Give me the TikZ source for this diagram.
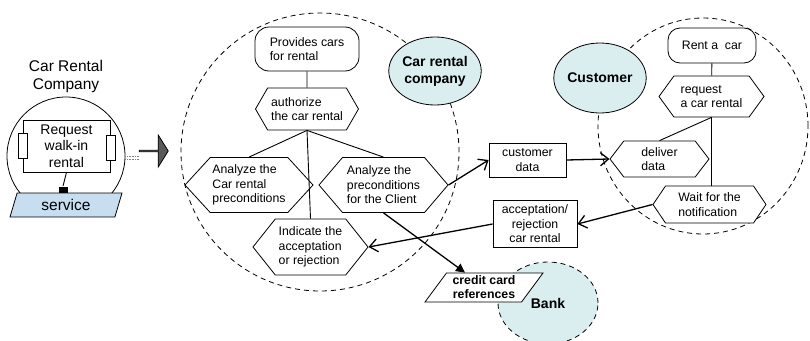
\documentclass[tikz,border=0pt]{standalone}
\usepackage{fontspec}
\setmainfont{Liberation Sans}
\usetikzlibrary{arrows.meta,calc,positioning,shapes.geometric,shapes.symbols,shapes.arrows}
\definecolor{actorfill}{RGB}{218,237,239}
\definecolor{servfill}{RGB}{198,222,240}
\tikzset{
  txt/.style   = {font=\fontsize{12.3}{14.5}\selectfont},
  hexa/.style  = {txt, draw, fill=white, signal, signal to=west and east, inner sep=1pt,
                  align=left},
  term/.style  = {txt, draw, fill=white, rounded corners=14pt, align=left, inner sep=1pt},
  datab/.style = {txt, draw, fill=white, align=center, inner sep=1pt},
  actor/.style = {ellipse, draw, fill=actorfill, inner sep=0pt, align=center,
                  font=\bfseries\fontsize{14}{17}\selectfont},
  zone/.style  = {draw, dash pattern=on 5pt off 4pt, inner sep=0pt},
  slant/.style = {trapezium, trapezium stretches body=true, inner sep=0pt},
  link/.style  = {line width=0.9pt},
  flow/.style  = {line width=1.3pt, -{Straight Barb[length=8pt,width=13pt]}},
}

\begin{document}
\begin{tikzpicture}[x=1pt,y=-1pt,line width=0.8pt]
  \useasboundingbox (0,0) rectangle (810,340);
  % component on the left
  \node[align=center, font=\fontsize{15.5}{18}\selectfont] (crc) at (66,76) {Car Rental\\Company};
  \node[circle, draw, minimum size=118, inner sep=0pt] (lcirc) at (66,156) {};
  \node[draw, fill=white, minimum width=87, minimum height=52, inner sep=0pt, align=center,
        font=\fontsize{14}{16.5}\selectfont] (walk) at (66.5,146) {Request\\walk-in\\rental};
  \node[draw, fill=white, minimum width=9, minimum height=25, inner sep=0pt] (walkL) at (walk.west) {};
  \node[draw, fill=white, minimum width=9, minimum height=25, inner sep=0pt] (walkR) at ([yshift=-2pt]walk.east) {};
  \node[slant, fill=black, trapezium left angle=60, trapezium right angle=120,
        minimum width=9, minimum height=6] (plug) at (63,189.5) {};
  \draw[link] (walk.south) -- (plug.north);
  \node[slant, draw, fill=servfill, trapezium left angle=58, trapezium right angle=122,
        minimum width=112, minimum height=24, font=\fontsize{15.5}{18}\selectfont] (service) at (66,205) {service};
  \node[single arrow, draw, fill=black!65, minimum height=29, minimum width=32, inner sep=0pt,
        single arrow head extend=8.5pt, single arrow tip angle=116] (push) at (153.5,151) {};
  \draw[densely dotted, gray, line width=0.6pt] ($(lcirc.east)+(0,0)$) -- ($(lcirc.east -| push.tail)+(0,0)$);
  \draw[densely dotted, gray, line width=0.6pt] ($(lcirc.east)+(0,3)$) -- ($(lcirc.east -| push.tail)+(0,3)$);

  % car rental company
  \node[zone, circle, minimum size=278] (zoneA) at (320,152) {};
  \node[actor, minimum width=86, minimum height=68] (company) at (435,71) {Car rental\\company};
  \node[term, minimum width=104, minimum height=44] (provide) at (307,49) {Provides cars\\for rental};
  \node[hexa, minimum width=103, minimum height=42, signal pointer angle=120] (authorize) at (307,109) {authorize\\the car rental};
  \node[hexa, minimum width=128, minimum height=55, signal pointer angle=95] (anaCar) at (249,185) {Analyze the\\Car rental\\preconditions};
  \node[hexa, minimum width=129, minimum height=55, signal pointer angle=99] (anaCli) at (383.5,185) {Analyze the\\preconditions\\for the Client};
  \node[hexa, minimum width=115, minimum height=56, signal pointer angle=103] (indicate) at (310.5,247) {Indicate the\\acceptation\\or rejection};

  % customer
  \node[zone, ellipse, minimum width=210, minimum height=216] (zoneB) at (703,126) {};
  \node[actor, minimum width=85, minimum height=70] (customer) at (600,78) {Customer};
  \node[term, minimum width=88, minimum height=35, rounded corners=12pt] (rent) at (712,45.5) {Rent a\ \ car};
  \node[hexa, minimum width=105, minimum height=41, signal pointer angle=108] (request) at (711.5,96.5) {request\\a car rental};
  \node[hexa, minimum width=99, minimum height=36, signal pointer angle=105] (deliver) at (659.5,159) {deliver\\data};
  \node[hexa, minimum width=113, minimum height=37, signal pointer angle=112] (wait) at (709.5,204.5) {Wait for the\\notification};

  % exchanged data and bank
  \node[datab, minimum width=77, minimum height=34] (custdata) at (527.5,160) {customer\\data};
  \node[datab, minimum width=84, minimum height=47] (accept) at (535,224) {acceptation/\\rejection\\car rental};
  \node[actor, zone, minimum width=100, minimum height=82] (bank) at (548,303) {Bank};
  \node[slant, draw, fill=white, trapezium left angle=47, trapezium right angle=133,
        minimum width=118, minimum height=29, align=center,
        font=\bfseries\fontsize{12.3}{14}\selectfont] (credit) at (484,287.5) {credit card\\references};

  \draw[link] (provide) -- (authorize);
  \draw[link] (authorize.south) -- (anaCar.north);
  \draw[link] (authorize.south) -- (indicate.north);
  \draw[link] (authorize.south) -- (anaCli.north);
  \draw[link] (rent) -- (request);
  \draw[link] (request.south) -- (deliver.north);
  \draw[link] (request.south) -- (request.south |- wait.north);
  \draw[flow] (anaCli.east) -- (custdata.west);
  \draw[flow] (custdata.east) -- (deliver.west);
  \draw[flow] (wait.west) -- (accept.east);
  \draw[flow] (accept.west) -- (indicate.east);
  \draw[line width=1.3pt, -{Triangle[length=9pt,width=9pt]}] (anaCli.south) -- ([xshift=-19pt]credit.north);
\end{tikzpicture}
\end{document}
